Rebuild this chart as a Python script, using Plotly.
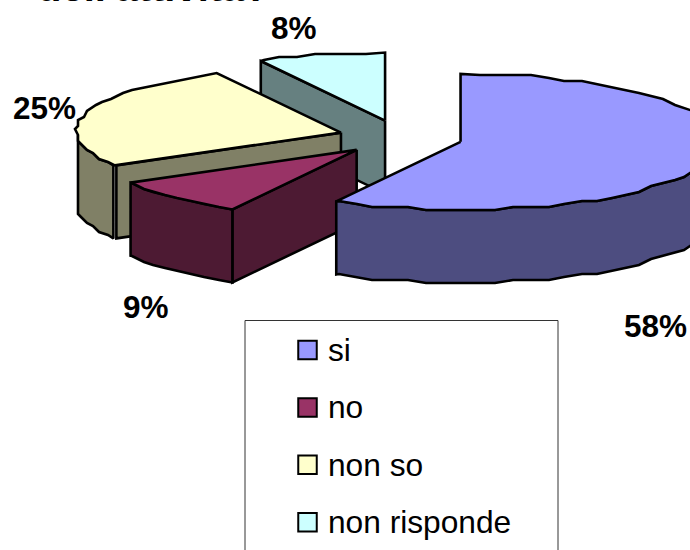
import numpy as np
import plotly.graph_objects as go

categories = ["si", "no", "non so", "non risponde"]
values = [58, 9, 25, 8]
top_colors = ["#9999FF", "#993366", "#FFFFCC", "#CCFFFF"]
wall_colors = ["#4D4D80", "#4D1A33", "#808066", "#668080"]
value_labels = ["58%", "9%", "25%", "8%"]
label_positions = [(655, 326), (146, 307), (44, 108), (294, 28)]
title_text = "dell'attività?"

CX, CY = 400.5, 137.5
RX, RY = 258, 68
EXPLODE_X, EXPLODE_Y = 62, 17.5
DEPTH = 73
LINE = 2.6
GRID_DEG = 4.0
RIM_BULGE = [0, 0, 0.03, 0]


def arc(a0, a1, ax, ay, bulge=0.0, span=None):
    s0, s1 = span if span else (a0, a1)
    inner = np.arange(np.ceil(a0 / GRID_DEG), np.floor(a1 / GRID_DEG) + 1) * GRID_DEG
    inner = inner[(inner > a0 + 0.5) & (inner < a1 - 0.5)]
    t = np.radians(inner)
    k = 1 + bulge * np.sin(np.pi * (inner - s0) / (s1 - s0))
    # coarse metafile-style rim outline, same vertices for top face and wall
    xm = np.round((ax + k * RX * np.sin(t)) / 3) * 3
    ym = np.round((ay - k * RY * np.cos(t)) / 3) * 3
    xs = np.r_[ax + RX * np.sin(np.radians(a0)), xm, ax + RX * np.sin(np.radians(a1))]
    ys = np.r_[ay - RY * np.cos(np.radians(a0)), ym, ay - RY * np.cos(np.radians(a1))]
    return xs, ys


def poly(xs, ys, fill):
    xs = list(xs) + [xs[0]]
    ys = list(ys) + [ys[0]]
    return go.Scatter(x=xs, y=ys, mode="lines", fill="toself", fillcolor=fill,
                      line=dict(color="black", width=LINE), hoverinfo="skip", showlegend=False)


fractions = np.cumsum([0] + values) / sum(values) * 360
slices = []
for i, v in enumerate(values):
    a0, a1 = fractions[i], fractions[i + 1]
    mid = np.radians((a0 + a1) / 2)
    slices.append((a0, a1, CX + EXPLODE_X * np.sin(mid), CY - EXPLODE_Y * np.cos(mid)))

fig = go.Figure()
for i in [3, 2, 1, 0]:
    a0, a1, ax, ay = slices[i]
    top, wall = top_colors[i], wall_colors[i]
    ex = ax + RX * np.sin(np.radians(a0))
    ey = ay - RY * np.cos(np.radians(a0))
    if i in (1, 2, 3):
        gap = 1.5 if i == 2 else 0
        fig.add_trace(poly([ax, ex + gap, ex + gap, ax], [ay, ey, ey + DEPTH, ay + DEPTH], wall))
    if i == 2:
        x, y = arc(a0, 268, ax, ay, RIM_BULGE[i], (a0, a1))
        x = x.copy()
        x[0] -= 1.5
        x[-1] = x[-2]
        fig.add_trace(poly(list(x) + list(x[::-1]), list(y) + list(y[::-1] + DEPTH), wall))
    if i == 1:
        x, y = arc(a0, a1, ax, ay)
        fig.add_trace(poly(list(x) + list(x[::-1]), list(y) + list(y[::-1] + DEPTH), wall))
    if i == 0:
        x, y = arc(88, a1, ax, ay)
        fig.add_trace(poly(list(x) + list(x[::-1]), list(y) + list(y[::-1] + DEPTH), wall))
    x, y = arc(a0, a1, ax, ay, RIM_BULGE[i])
    fig.add_trace(poly([ax] + list(x), [ay] + list(y), top))

# legend
LEG_X, LEG_Y0, LEG_STEP = 307.5, 350, 57.4
fig.add_trace(go.Scatter(
    x=[LEG_X] * 4, y=[LEG_Y0 + LEG_STEP * i for i in range(4)],
    mode="markers", marker=dict(symbol="square", size=18.5, color=top_colors,
                                line=dict(color="black", width=2)),
    hoverinfo="skip", showlegend=False))

annotations = [dict(x=x, y=y, text=f"<b>{t}</b>", showarrow=False, xanchor="center", yanchor="middle",
                    font=dict(size=31.5, color="black", family="Liberation Sans"))
               for t, (x, y) in zip(value_labels, label_positions)]
annotations += [dict(x=328, y=LEG_Y0 + LEG_STEP * i, text=c, showarrow=False, xanchor="left", yanchor="middle",
                     xshift=-2, font=dict(size=31.7, color="black", family="Liberation Sans"))
                for i, c in enumerate(categories)]
annotations.append(dict(x=37, y=11, text=f"<b>{title_text}</b>", showarrow=False, xanchor="left", yanchor="bottom",
                        xshift=-2, font=dict(size=40, color="black", family="Liberation Sans")))

fig.update_layout(
    width=690, height=550, margin=dict(l=0, r=0, t=0, b=0),
    plot_bgcolor="white", paper_bgcolor="white", showlegend=False,
    xaxis=dict(range=[0, 690], visible=False, fixedrange=True),
    yaxis=dict(range=[550, 0], visible=False, fixedrange=True),
    annotations=annotations,
    shapes=[dict(type="rect", x0=245, x1=558, y0=320.5, y1=560, line=dict(color="#333333", width=1),
                 fillcolor="rgba(0,0,0,0)", layer="below")],
)
fig.write_html("out.html", config={"displayModeBar": False},
               post_script="document.body.style.margin='0';document.body.style.overflow='hidden';")
